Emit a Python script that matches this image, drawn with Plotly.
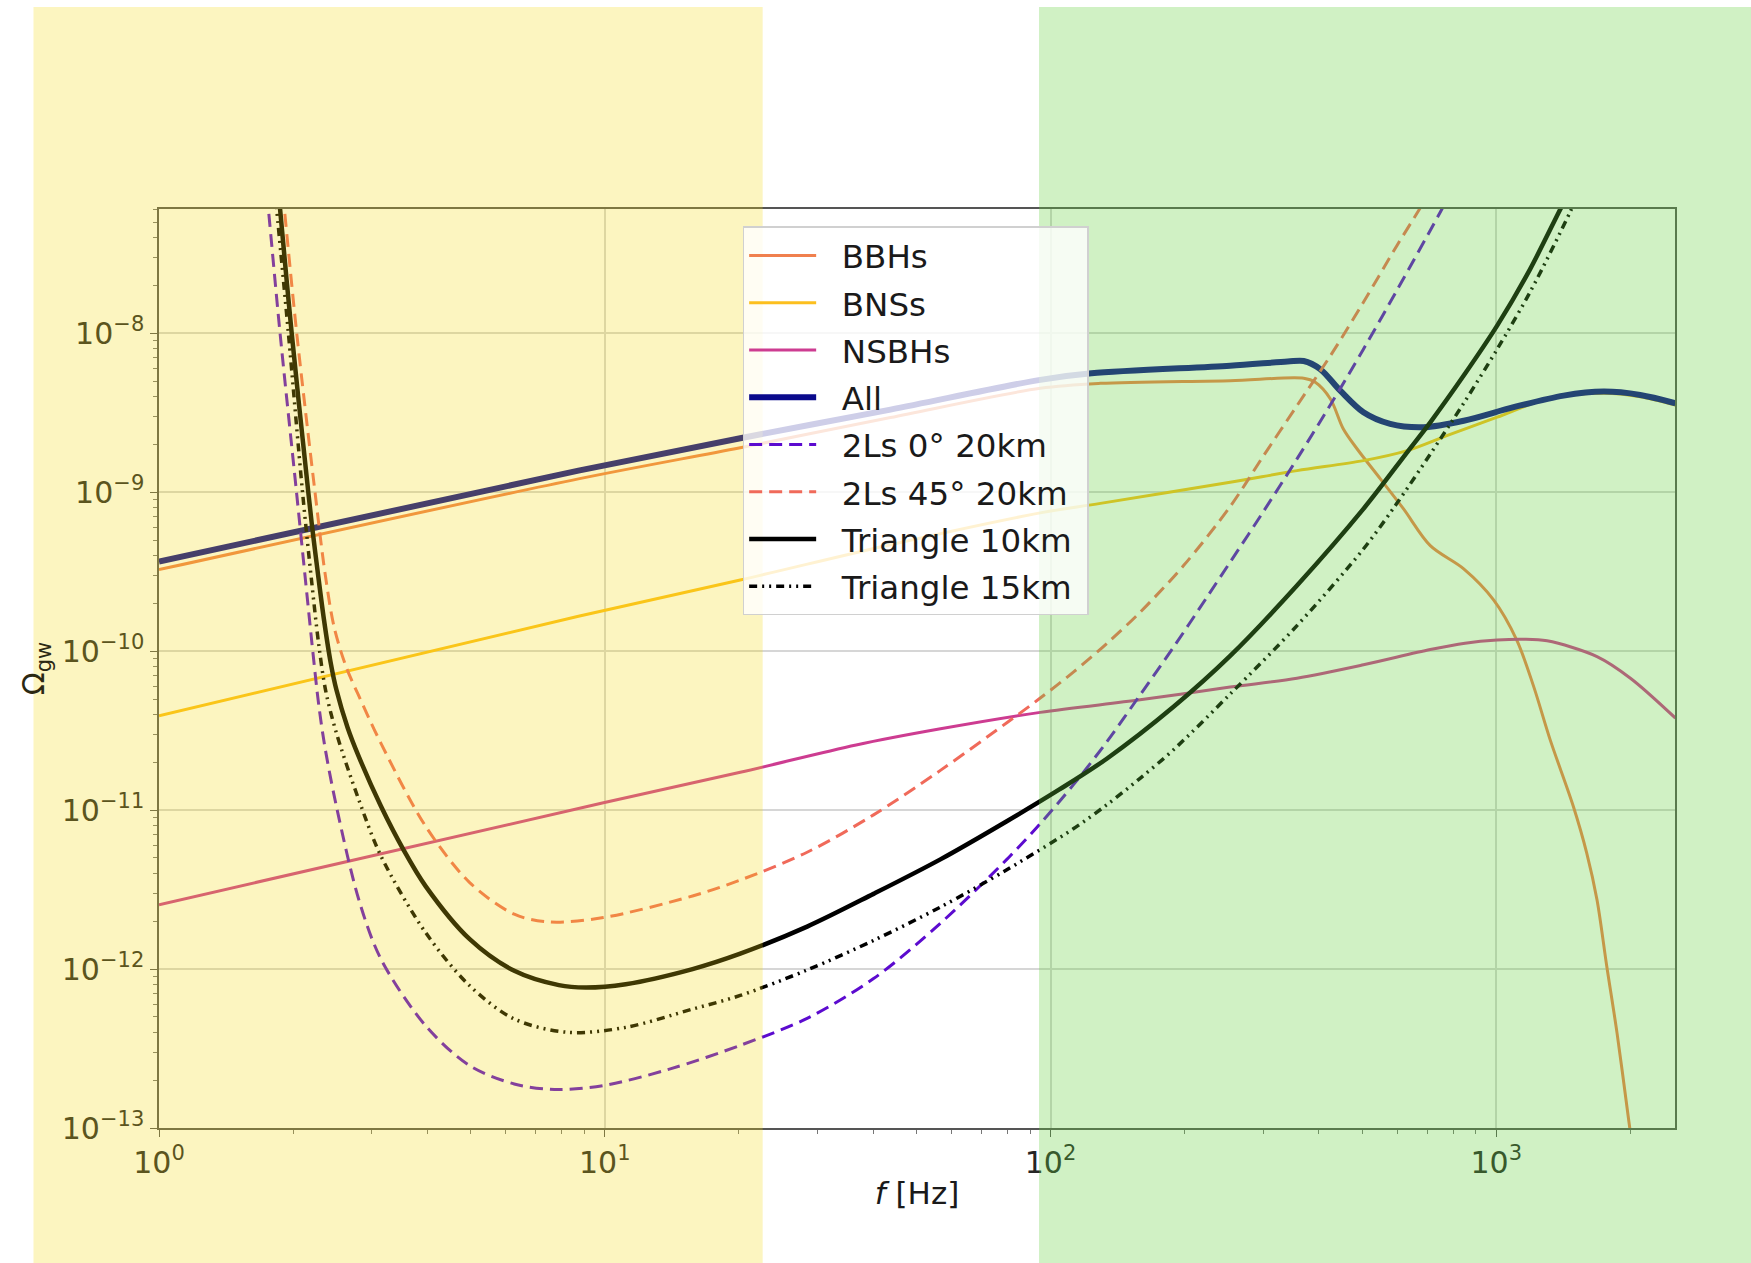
import numpy as np
import plotly.graph_objects as go

# ---------------- data (log10 of frequency in Hz, log10 of Omega_gw) ----------------
bbh_logf = [0, 0.941, 1.304, 1.641, 1.977, 2.112, 2.403, 2.568, 2.594, 2.628, 2.657, 2.688, 2.740,
            2.792, 2.852, 2.927, 2.994, 3.046, 3.084, 3.121, 3.173, 3.203, 3.226, 3.248, 3.271, 3.297, 3.302]
bbh_logo = [-9.487, -8.916, -8.72, -8.53, -8.346, -8.315, -8.298, -8.283, -8.308, -8.413, -8.602, -8.728, -8.916,
            -9.105, -9.336, -9.482, -9.677, -9.93, -10.223, -10.558, -10.977, -11.270, -11.564, -11.984, -12.403, -12.948, -13.05]

bns_logf = [0, 0.941, 1.304, 1.641, 1.977, 2.112, 2.403, 2.553, 2.702, 2.800, 2.889, 3.002, 3.114, 3.241, 3.323, 3.402]
bns_logo = [-10.406, -9.78, -9.552, -9.33, -9.13, -9.07, -8.937, -8.864, -8.801, -8.738, -8.644, -8.528, -8.413, -8.378, -8.40, -8.452]

nsbh_logf = [0, 0.997, 1.304, 1.564, 1.75, 1.977, 2.201, 2.403, 2.553, 2.702, 2.852, 2.93, 3.002, 3.06, 3.114, 3.226, 3.301, 3.402]
nsbh_logo = [-11.595, -10.954, -10.762, -10.59, -10.49, -10.385, -10.306, -10.226, -10.170, -10.086, -9.99, -9.95, -9.93, -9.925, -9.935,
             -10.034, -10.170, -10.421]

all_logf = [0, 0.941, 1.304, 1.641, 1.977, 2.092, 2.403, 2.532, 2.568, 2.605, 2.650, 2.702, 2.762, 2.837,
            2.927, 3.039, 3.151, 3.241, 3.323, 3.402]
all_logo = [-9.436, -8.864, -8.66, -8.48, -8.293, -8.252, -8.204, -8.178, -8.174, -8.225, -8.361, -8.497, -8.570, -8.591,
            -8.550, -8.465, -8.392, -8.367, -8.388, -8.440]

ls0_logf = [0.238, 0.2454, 0.2716, 0.3085, 0.345, 0.358, 0.372, 0.398, 0.448, 0.498, 0.598, 0.697, 0.797, 0.887, 0.997,
            1.147, 1.304, 1.454, 1.603, 1.753, 1.902, 1.977, 2.052, 2.127, 2.201, 2.276, 2.351, 2.403, 2.478,
            2.553, 2.628, 2.702, 2.777, 2.874, 2.91]
ls0_logo = [-7.0, -7.218, -8.0, -9.0, -10.0, -10.33, -10.6, -10.976, -11.561, -11.938, -12.356, -12.608, -12.723, -12.758, -12.733,
            -12.628, -12.48, -12.31, -12.06, -11.712, -11.31, -11.085, -10.838, -10.568, -10.275, -9.975, -9.66, -9.44, -9.12,
            -8.79, -8.45, -8.10, -7.73, -7.24, -7.05]

ls45_logf = [0.274, 0.2813, 0.309, 0.350, 0.372, 0.393, 0.42, 0.448, 0.498, 0.598, 0.697, 0.797, 0.877, 0.997, 1.197, 1.304,
             1.454, 1.603, 1.753, 1.902, 1.977, 2.052, 2.127, 2.201, 2.299, 2.403, 2.478, 2.553, 2.628, 2.702,
             2.777, 2.828, 2.863]
ls45_logo = [-7.0, -7.218, -8.0, -9.0, -9.5, -9.85, -10.1, -10.28, -10.58, -11.101, -11.456, -11.655, -11.704, -11.676, -11.54, -11.44,
             -11.265, -11.03, -10.75, -10.45, -10.295, -10.13, -9.95, -9.755, -9.46, -9.09, -8.770, -8.455, -8.141, -7.805,
             -7.449, -7.218, -7.05]

tri10_logf = [0.2646, 0.2716, 0.2977, 0.3351, 0.3441, 0.356, 0.370, 0.385, 0.398, 0.423, 0.448, 0.498, 0.548, 0.598, 0.697,
              0.797, 0.897, 0.957, 1.047, 1.197, 1.304, 1.454, 1.603, 1.753, 1.902, 2.02, 2.127, 2.276, 2.403, 2.553, 2.702,
              2.800, 2.852, 2.927, 3.002, 3.076, 3.144, 3.175]
tri10_logo = [-7.0, -7.218, -8.0, -9.004, -9.231, -9.5, -9.8, -10.07, -10.243, -10.48, -10.662, -10.976, -11.247, -11.478, -11.812,
              -12.011, -12.101, -12.116, -12.095, -12.0, -11.903, -11.733, -11.527, -11.31, -11.07, -10.87, -10.675, -10.35, -10.03,
              -9.587, -9.105, -8.749, -8.560, -8.266, -7.952, -7.596, -7.218, -7.05]

tri15_logf = [0.257, 0.264, 0.2903, 0.322, 0.342, 0.358, 0.374, 0.398, 0.448, 0.498, 0.598, 0.697, 0.797, 0.917, 1.047, 1.197,
              1.304, 1.454, 1.603, 1.753, 1.902, 2.052, 2.127, 2.201, 2.276, 2.403, 2.553, 2.702, 2.777, 2.852, 2.927,
              3.002, 3.076, 3.166, 3.195]
tri15_logo = [-7.0, -7.218, -8.0, -9.0, -9.55, -9.95, -10.25, -10.515, -10.933, -11.289, -11.770, -12.105, -12.314, -12.398, -12.367,
              -12.252, -12.166, -12.006, -11.82, -11.61, -11.375, -11.116, -10.965, -10.80, -10.62, -10.27, -9.839, -9.357, -9.07,
              -8.76, -8.44, -8.10, -7.74, -7.235, -7.05]

x_tickvals = [1, 10, 100, 1000]
x_ticktext = ["10<sup>0</sup>", "10<sup>1</sup>", "10<sup>2</sup>", "10<sup>3</sup>"]
y_tickvals = [1e-13, 1e-12, 1e-11, 1e-10, 1e-9, 1e-8]
y_ticktext = ["10<sup>\u221213</sup>", "10<sup>\u221212</sup>", "10<sup>\u221211</sup>",
              "10<sup>\u221210</sup>", "10<sup>\u22129</sup>", "10<sup>\u22128</sup>"]

legend_names = ["BBHs", "BNSs", "NSBHs", "All", "2Ls 0\u00b0 20km", "2Ls 45\u00b0 20km",
                "Triangle 10km", "Triangle 15km"]

series = [
    (bbh_logf, bbh_logo, "#f0804e", 3, "solid"),
    (bns_logf, bns_logo, "#fcbf1e", 3, "solid"),
    (nsbh_logf, nsbh_logo, "#cd3c91", 3, "solid"),
    (all_logf, all_logo, "#0a0a8c", 6, "solid"),
    (ls0_logf, ls0_logo, "#5c0bcf", 3, "13px,7px"),
    (ls45_logf, ls45_logo, "#f06a5a", 3, "13px,7px"),
    (tri10_logf, tri10_logo, "#000000", 4.5, "solid"),
    (tri15_logf, tri15_logo, "#000000", 3.5, "8px,5px,2px,5px,2px,5px"),
]

fig = go.Figure()
for i, (name, (lf, lo, col, w, dash)) in enumerate(zip(legend_names, series)):
    fig.add_trace(go.Scatter(
        x=np.power(10.0, lf), y=np.power(10.0, lo),
        name="\u00a0\u00a0" + name + "\u00a0", mode="lines",
        line=dict(color=col, width=w, dash=dash, shape="spline", smoothing=0.9),
        legendgroup="g%d" % i,
    ))

minor_x = [m * 10 ** d for d in range(0, 4) for m in range(2, 10)]
minor_y = [m * 10.0 ** d for d in range(-13, -7) for m in range(2, 10)]

axis_common = dict(
    type="log", showline=True, linecolor="#555555", linewidth=1.5, mirror=True,
    ticks="outside", ticklen=7, tickwidth=1.3, tickcolor="#555555",
    showgrid=True, gridcolor="#d6d6d6", gridwidth=1.5, zeroline=False,
)

fig.update_xaxes(
    **axis_common, range=[0, 3.401], tickmode="array", tickvals=x_tickvals, ticktext=x_ticktext,
    tickfont=dict(size=30, color="#262626", family="DejaVu Sans"),
    minor=dict(tickmode="array", tickvals=minor_x, ticks="outside", ticklen=4, tickcolor="#777777", showgrid=False),
    title=dict(text="<i>f</i> [Hz]", font=dict(size=31, color="#1a1a1a", family="DejaVu Sans"), standoff=4),
)
fig.update_yaxes(
    **axis_common, range=[-13, -7.218], tickmode="array", tickvals=y_tickvals, ticktext=y_ticktext,
    tickfont=dict(size=30, color="#262626", family="DejaVu Sans"),
    minor=dict(tickmode="array", tickvals=minor_y, ticks="outside", ticklen=4, tickcolor="#777777", showgrid=False),
    title=dict(text="\u03a9<sub>gw</sub>", font=dict(size=30, color="#2b2812", family="DejaVu Sans"), standoff=8),
)

fig.update_layout(
    width=1751, height=1263,
    margin=dict(l=159, r=76, t=209, b=135, autoexpand=False),
    plot_bgcolor="white", paper_bgcolor="white",
    font=dict(family="DejaVu Sans", color="#1a1a1a"),
    showlegend=True,
    legend=dict(
        x=0.385, y=0.981, xanchor="left", yanchor="top",
        bgcolor="rgba(255,255,255,0.8)", bordercolor="#d0d0d0", borderwidth=1.5,
        font=dict(size=32.5, color="#1a1a1a", family="DejaVu Sans"),
        itemwidth=67, tracegroupgap=2, traceorder="grouped",
    ),
    shapes=[
        dict(type="rect", xref="paper", yref="paper", x0=-0.0828, x1=0.3982, y0=-0.2, y1=1.2198,
             fillcolor="rgb(245,215,10)", opacity=0.26, line=dict(width=0), layer="above"),
        dict(type="rect", xref="paper", yref="paper", x0=0.5805, x1=1.1, y0=-0.2, y1=1.2198,
             fillcolor="rgb(100,210,60)", opacity=0.3, line=dict(width=0), layer="above"),
    ],
)

fig.write_html("out.html")
